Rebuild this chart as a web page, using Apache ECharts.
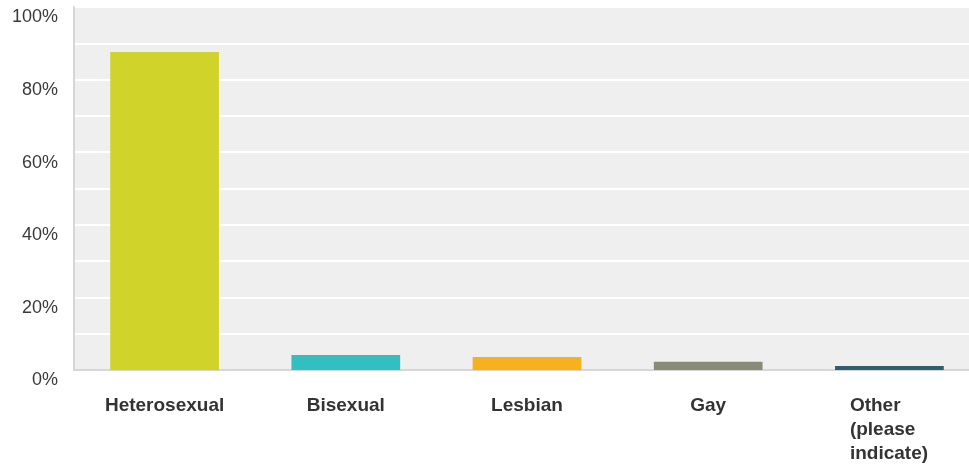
<!DOCTYPE html>
<html>
<head>
<meta charset="utf-8">
<script src="https://cdn.jsdelivr.net/npm/echarts@6/dist/echarts.min.js"></script>
<style>
html,body{margin:0;padding:0;background:#fff;overflow:hidden;width:969px;height:466px;}
#main{width:980px;height:466px;}
</style>
</head>
<body>
<div id="main"></div>
<script>
var categories = ['Heterosexual', 'Bisexual', 'Lesbian', 'Gay', 'Other\n(please\nindicate)'];
var values = [87.6, 4.1, 3.6, 2.3, 1.1];
var colors = ['#D0D42A', '#33BEBF', '#F7B11F', '#898B79', '#2F5E6C'];
var yTicks = [0, 20, 40, 60, 80, 100];

var chart = echarts.init(document.getElementById('main'));
chart.setOption({
  animation: false,
  grid: {
    left: 74, right: 0, top: 7, bottom: 96,
    show: true, backgroundColor: '#EFEFEF', borderWidth: 0
  },
  xAxis: {
    type: 'category',
    data: categories,
    axisLine: { show: true, lineStyle: { color: '#D6D6D6', width: 2 } },
    axisTick: { show: false },
    splitLine: { show: false },
    axisLabel: {
      interval: 0,
      margin: 24,
      color: '#333333',
      fontFamily: 'Liberation Sans, Arial, sans-serif',
      fontWeight: 'bold',
      fontSize: 19,
      lineHeight: 24,
      formatter: function (v) {
        return v.indexOf('\n') >= 0 ? '{l|' + v + '}' : v;
      },
      rich: {
        l: {
          width: 79,
          align: 'left',
          color: '#333333',
          fontFamily: 'Liberation Sans, Arial, sans-serif',
          fontWeight: 'bold',
          fontSize: 19,
          lineHeight: 24
        }
      }
    }
  },
  yAxis: {
    type: 'value',
    min: 0, max: 100, interval: 10,
    axisLine: { show: true, lineStyle: { color: '#D6D6D6', width: 2 } },
    axisTick: { show: false },
    splitLine: { show: true, lineStyle: { color: '#FFFFFF', width: 2 } },
    axisLabel: {
      margin: 16,
      color: '#3A3A3A',
      fontFamily: 'Liberation Sans, Arial, sans-serif',
      fontSize: 18,
      lineHeight: 21,
      verticalAlign: 'top',
      formatter: function (v) {
        return yTicks.indexOf(v) >= 0 ? v + '%' : '';
      }
    }
  },
  series: [{
    type: 'bar',
    barWidth: '60%',
    data: values.map(function (v, i) {
      return { value: v, itemStyle: { color: colors[i] } };
    })
  }]
});
</script>
</body>
</html>
